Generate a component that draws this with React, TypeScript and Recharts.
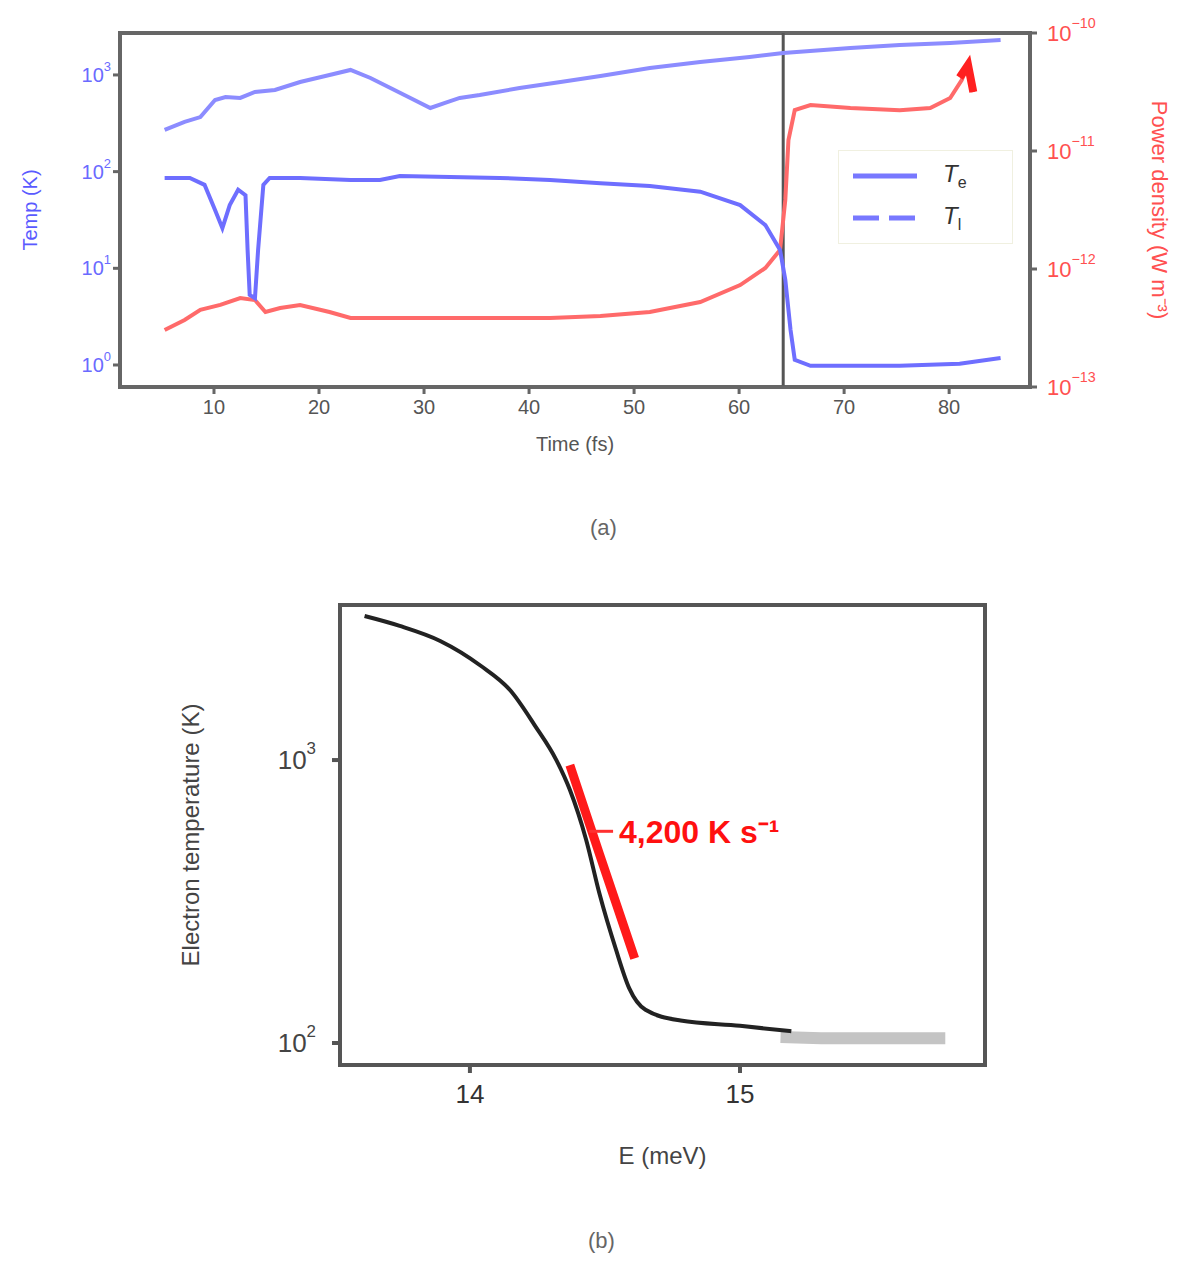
import React from 'react';
import {
  LineChart,
  Line,
  XAxis,
  YAxis,
  Legend,
  ReferenceArea,
  ReferenceLine,
} from 'recharts';

// panel (a): time axis shared, each trace sampled at its own times
const timeTicks = [10, 20, 30, 40, 50, 60, 70, 80];
const tempTicks = [1, 10, 100, 1000];
const powerTicks = [1e-13, 1e-12, 1e-11, 1e-10];

const latticeTime = [5.3, 7.2, 8.7, 10.1, 11.1, 12.5, 13.9, 15.8, 18.2, 20.6, 23.0, 24.9, 26.8, 28.7, 30.6, 32.0, 33.4, 35.3, 39.1, 43.0, 46.8, 51.5, 56.3, 61.0, 64.2, 70.6, 75.3, 80.1, 84.9];
const latticeTemp = [270, 327, 367, 551, 592, 578, 667, 700, 846, 975, 1127, 931, 733, 578, 455, 513, 578, 621, 733, 846, 975, 1180, 1361, 1535, 1687, 1901, 2042, 2141, 2301];

const electronTime = [5.3, 7.7, 9.1, 10.1, 10.8, 11.5, 12.3, 13.0, 13.2, 13.4, 13.9, 14.2, 14.7, 15.3, 18.2, 23.0, 25.8, 27.7, 32.5, 37.2, 42.0, 46.8, 51.5, 56.3, 60.1, 62.5, 63.9, 64.4, 64.9, 65.3, 66.8, 75.3, 81.0, 84.9];
const electronTemp = [86, 86, 73, 40, 26, 45, 65, 57, 15.5, 5.3, 4.9, 15.5, 73, 86, 86, 82, 82, 90, 88, 86, 82, 76, 71, 62, 45, 28, 15.5, 7.6, 2.3, 1.13, 0.98, 0.98, 1.03, 1.18];

const powerTime = [5.3, 7.2, 8.7, 10.6, 12.5, 13.9, 14.9, 16.3, 18.2, 21.0, 23.0, 25.8, 32.5, 42.0, 46.8, 51.5, 56.3, 60.1, 62.5, 63.9, 64.4, 64.7, 65.3, 66.8, 70.6, 75.3, 78.2, 80.1, 81.2, 81.8, 82.3];
const powerValue = [3.04e-13, 3.7e-13, 4.5e-13, 4.96e-13, 5.68e-13, 5.46e-13, 4.32e-13, 4.67e-13, 4.96e-13, 4.32e-13, 3.85e-13, 3.85e-13, 3.85e-13, 3.85e-13, 4.0e-13, 4.32e-13, 5.25e-13, 7.31e-13, 1.02e-12, 1.45e-12, 3.85e-12, 1.24e-11, 2.22e-11, 2.45e-11, 2.31e-11, 2.22e-11, 2.31e-11, 2.81e-11, 4.0e-11, 5.36e-11, 3.16e-11];
const powerTailTime = [81.0, 81.8, 82.3];
const powerTailValue = [4.2e-11, 5.36e-11, 3.16e-11];

// panel (b)
const energyTicks = [14, 15];
const coolTicks = [100, 1000];
const curveEnergy = [13.61, 13.74, 13.89, 14.04, 14.15, 14.24, 14.32, 14.37, 14.43, 14.48, 14.54, 14.59, 14.65, 14.78, 15.0, 15.19];
const curveTemp = [3228, 2979, 2636, 2154, 1761, 1327, 1000, 785, 524, 336, 215, 156, 131, 120, 115, 110];
const tailEnergy = [15.15, 15.3, 15.52, 15.76];
const tailTemp = [105, 104, 104, 104];
const fitEnergy = [14.37, 14.48, 14.61];
const fitTemp = [960, 464, 199];
const rateLabel = '4,200 K s⁻¹';

const zip = (xs: number[], ys: number[]) => xs.map((x, i) => ({ x, y: ys[i] }));

const FONT = '"Liberation Sans", Arial, sans-serif';

function LogTick(props: any) {
  const { x, y, payload, anchor, color, size } = props;
  const e = Math.round(Math.log10(payload.value));
  const exp = e < 0 ? `−${-e}` : `${e}`;
  return (
    <text x={x} y={y} textAnchor={anchor} dominantBaseline="central" fill={color} fontSize={size} fontFamily={FONT}>
      10
      <tspan dy={-size * 0.45} fontSize={size * 0.65}>
        {exp}
      </tspan>
    </text>
  );
}

function TempLegend() {
  const row = (dash: string | undefined, sub: string) => (
    <div style={{ display: 'flex', alignItems: 'center', height: 42 }}>
      <svg width={80} height={10}>
        <line x1={8} x2={72} y1={5} y2={5} stroke="#7878ff" strokeWidth={5} strokeDasharray={dash} />
      </svg>
      <span style={{ marginLeft: 18, fontSize: 24, color: '#333', fontFamily: FONT }}>
        <i>T</i>
        <sub style={{ fontSize: 16 }}>{sub}</sub>
      </span>
    </div>
  );
  return (
    <div style={{ border: '1px solid #f0f0e0', padding: '4px 6px' }}>
      {row(undefined, 'e')}
      {row('26 10', 'l')}
    </div>
  );
}

export default function App() {
  return (
    <div style={{ position: 'absolute', left: 0, top: 0, width: 1200, height: 1272, background: '#fff', fontFamily: FONT }}>
      <div style={{ position: 'absolute', left: 0, top: 0 }}>
        <LineChart width={1200} height={460} margin={{ top: 33, right: 90, bottom: 33, left: 60 }}>
          <XAxis
            type="number"
            dataKey="x"
            domain={[1.05, 87.7]}
            ticks={timeTicks}
            allowDataOverflow
            height={40}
            stroke="#666"
            strokeWidth={3}
            tickSize={7}
            tickMargin={6}
            tick={{ fill: '#555', fontSize: 20 }}
            label={{ value: 'Time (fs)', position: 'bottom', offset: 10, fill: '#555', fontSize: 20 }}
          />
          <YAxis
            yAxisId="left"
            scale="log"
            domain={[0.592, 2716]}
            ticks={tempTicks}
            allowDataOverflow
            width={60}
            stroke="#666"
            strokeWidth={3}
            tickSize={7}
            tick={(p: any) => <LogTick {...p} anchor="end" color="#6a6aff" size={20} />}
            label={{ value: 'Temp (K)', angle: -90, position: 'insideLeft', offset: -30, fill: '#5a5aff', fontSize: 20, style: { textAnchor: 'middle' } }}
          />
          <YAxis
            yAxisId="right"
            orientation="right"
            scale="log"
            domain={[1e-13, 1e-10]}
            ticks={powerTicks}
            allowDataOverflow
            width={80}
            stroke="#666"
            strokeWidth={3}
            tickSize={7}
            tickMargin={10}
            tick={(p: any) => <LogTick {...p} anchor="start" color="#ff5050" size={22} />}
            label={{ value: 'Power density (W m⁻³)', angle: 90, position: 'insideRight', offset: -50, fill: '#ff5050', fontSize: 22, style: { textAnchor: 'middle' } }}
          />
          <ReferenceArea yAxisId="left" x1={1.05} x2={87.7} y1={0.592} y2={2716} fill="none" stroke="#666" strokeWidth={4} ifOverflow="visible" />
          <ReferenceLine yAxisId="left" x={64.2} stroke="#555" strokeWidth={3} />
          <Line yAxisId="right" data={zip(powerTime, powerValue)} dataKey="y" stroke="#ff6a6a" strokeWidth={4} dot={false} legendType="none" isAnimationActive={false} />
          <Line yAxisId="right" data={zip(powerTailTime, powerTailValue)} dataKey="y" stroke="#ff2020" strokeWidth={8} dot={false} legendType="none" isAnimationActive={false} />
          <Line yAxisId="left" data={zip(latticeTime, latticeTemp)} dataKey="y" name="Tl" stroke="#8c8cff" strokeWidth={4} dot={false} isAnimationActive={false} />
          <Line yAxisId="left" data={zip(electronTime, electronTemp)} dataKey="y" name="Te" stroke="#6e6eff" strokeWidth={4} dot={false} isAnimationActive={false} />
          <Legend
            layout="horizontal"
            verticalAlign="middle"
            align="center"
            content={<TempLegend />}
            wrapperStyle={{ position: 'absolute', left: 838, top: 150, width: 175 }}
          />
        </LineChart>
      </div>
      <div style={{ position: 'absolute', left: 590, top: 515, fontSize: 22, color: '#666' }}>(a)</div>

      <div style={{ position: 'absolute', left: 0, top: 560 }}>
        <LineChart width={1200} height={640} margin={{ top: 45, right: 215, bottom: 75, left: 260 }}>
          <XAxis
            type="number"
            dataKey="x"
            domain={[13.519, 15.907]}
            ticks={energyTicks}
            allowDataOverflow
            height={60}
            stroke="#555"
            strokeWidth={4}
            tickSize={8}
            tickMargin={12}
            tick={{ fill: '#333', fontSize: 26 }}
            label={{ value: 'E (meV)', position: 'bottom', offset: 22, fill: '#444', fontSize: 24 }}
          />
          <YAxis
            scale="log"
            domain={[83.6, 3532]}
            ticks={coolTicks}
            allowDataOverflow
            width={80}
            stroke="#555"
            strokeWidth={4}
            tickSize={8}
            tickMargin={16}
            tick={(p: any) => <LogTick {...p} anchor="end" color="#444" size={26} />}
            label={{ value: 'Electron temperature (K)', angle: -90, position: 'insideLeft', offset: -70, fill: '#444', fontSize: 24, style: { textAnchor: 'middle' } }}
          />
          <ReferenceArea x1={13.519} x2={15.907} y1={83.6} y2={3532} fill="none" stroke="#555" strokeWidth={4} ifOverflow="visible" />
          <Line data={zip(tailEnergy, tailTemp)} dataKey="y" stroke="#c4c4c4" strokeWidth={12} dot={false} isAnimationActive={false} />
          <Line data={zip(curveEnergy, curveTemp)} dataKey="y" type="monotone" stroke="#222" strokeWidth={4} dot={false} isAnimationActive={false} />
          <Line data={zip(fitEnergy, fitTemp)} dataKey="y" stroke="#ff1a1a" strokeWidth={9} dot={false} isAnimationActive={false} />
          <ReferenceLine
            segment={[{ x: 14.44, y: 560 }, { x: 14.53, y: 560 }]}
            stroke="#ff3030"
            strokeWidth={3}
            label={{ value: rateLabel, position: 'right', offset: 6, fill: '#ff1010', fontSize: 32, fontWeight: 'bold' }}
          />
        </LineChart>
      </div>
      <div style={{ position: 'absolute', left: 588, top: 1228, fontSize: 22, color: '#666' }}>(b)</div>
    </div>
  );
}
